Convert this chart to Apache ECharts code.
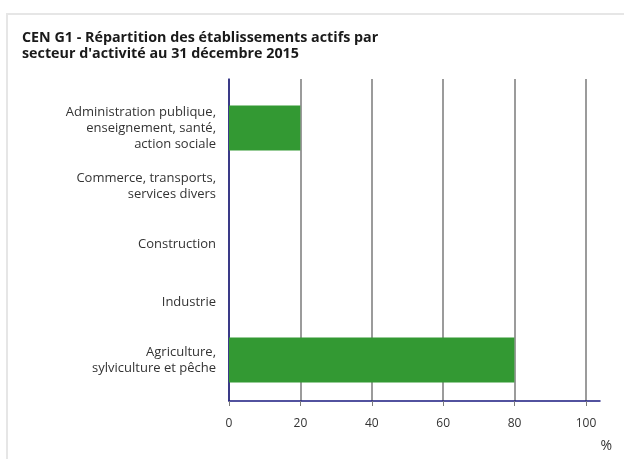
<!DOCTYPE html>
<html>
<head>
<meta charset="utf-8">
<script src="https://cdn.jsdelivr.net/npm/echarts@6/dist/echarts.min.js"></script>
<style>
  html, body { margin: 0; padding: 0; background: #fff; }
  #frame { position: absolute; left: 6px; top: 13px; width: 640px; height: 460px;
           border-left: 2px solid #e6e6e6; border-top: 2px solid #e6e6e6; }
  #main { position: absolute; left: 0; top: 0; width: 624px; height: 459px; }
</style>
</head>
<body>
<div id="frame"></div>
<div id="main"></div>
<script>
// categories, top to bottom
var categories = [
  'Administration publique,\nenseignement, santé,\naction sociale',
  'Commerce, transports,\nservices divers',
  'Construction',
  'Industrie',
  'Agriculture,\nsylviculture et pêche'
];
var shares = [20, 0, 0, 0, 80];

var font = '"Open Sans", "Noto Sans", sans-serif';
var gridColor = '#7a7a7a';
var axisNavy = '#1a1a80';

var chart = echarts.init(document.getElementById('main'));
chart.setOption({
  animation: false,
  title: {
    text: 'CEN G1 - Répartition des établissements actifs par\nsecteur d\'activité au 31 décembre 2015',
    left: 22, top: 30, padding: 0,
    textStyle: { fontFamily: font, fontSize: 14.3, fontWeight: 'bold', color: '#1a1a1a', lineHeight: 16 }
  },
  graphic: [{
    type: 'text', right: 12, top: 439,
    style: { text: '%', font: '14px ' + font, fill: '#333' }
  }],
  grid: [
    // frame: split lines, ticks and labels (0..100)
    { left: 229, right: 38, top: 79, bottom: 58 },
    // bars and category labels, axis line runs a bit past 100
    { left: 229, right: 24, top: 99, bottom: 70 }
  ],
  xAxis: [{
    gridIndex: 0, type: 'value', min: 0, max: 100, interval: 20,
    axisLine: { show: false },
    axisTick: { show: true, length: 5, lineStyle: { color: gridColor } },
    axisLabel: { margin: 17, fontFamily: font, fontSize: 12, color: '#333' },
    splitLine: { show: true, lineStyle: { color: gridColor, width: 1.5 } }
  }, {
    gridIndex: 1, type: 'value', min: 0, max: 104, offset: 12,
    axisLine: { show: true, lineStyle: { color: axisNavy, width: 1.5 } },
    axisTick: { show: false }, axisLabel: { show: false }, splitLine: { show: false }
  }],
  yAxis: [{
    gridIndex: 0, type: 'value', min: 0, max: 1,
    axisLine: { show: true, lineStyle: { color: axisNavy, width: 1.5 } },
    axisTick: { show: false }, axisLabel: { show: false }, splitLine: { show: false }
  }, {
    gridIndex: 1, type: 'category', inverse: true, data: categories,
    axisLine: { show: false }, axisTick: { show: false },
    axisLabel: { margin: 13, fontFamily: font, fontSize: 13, color: '#333', lineHeight: 16, align: 'right' }
  }],
  series: [{
    type: 'bar', xAxisIndex: 1, yAxisIndex: 1,
    data: shares, barWidth: 45,
    itemStyle: { color: '#339933' }
  }]
});
</script>
</body>
</html>
